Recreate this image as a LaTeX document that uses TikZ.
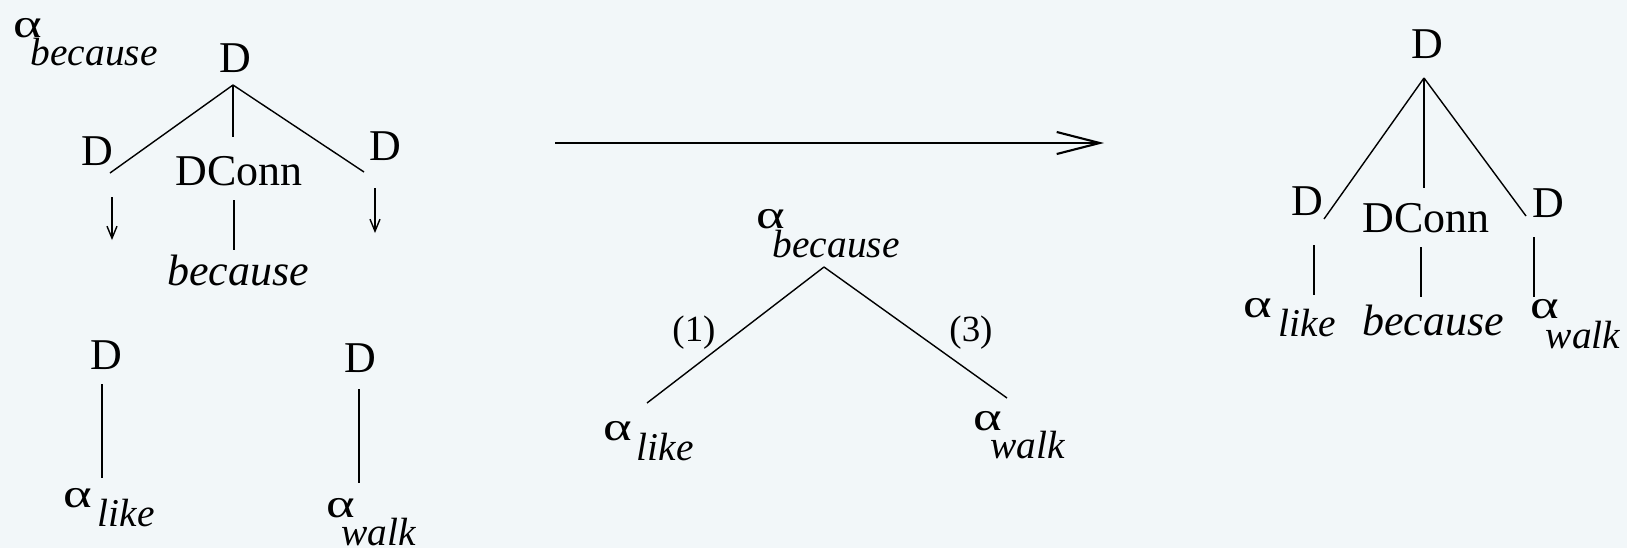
\documentclass[tikz,border=0pt]{standalone}
\usepackage{fontspec}
\setmainfont{Liberation Serif}
\usetikzlibrary{arrows.meta, calc}
\definecolor{bgcol}{RGB}{242,247,249}

% alpha with a lowered italic subscript: kern, drop, word
\newcommand{\alab}[3]{{\fontsize{11.5}{13}\selectfont\makebox[0.25cm][l]{\scalebox{1.35}[1]{α}}}%
  \kern#1\raisebox{-#2}{\fontsize{11.2}{13}\selectfont\itshape #3}}

\begin{document}
\begin{tikzpicture}[
  x=0.01cm, y=-0.01cm,
  cat/.style={anchor=base, inner sep=0pt, font=\fontsize{12.5}{15}\selectfont},
  word/.style={anchor=base, inner sep=0pt, font=\fontsize{12.5}{15}\selectfont\itshape},
  elem/.style={anchor=base west, inner sep=0pt, font=\fontsize{12.5}{15}\selectfont},
  addr/.style={anchor=base, inner sep=0pt, font=\fontsize{10.5}{13}\selectfont},
  edge/.style={line width=0.4pt},
  subst/.style={line width=0.4pt, -{Straight Barb[length=1.2mm, width=1mm]}},
  derive/.style={line width=0.6pt, -{Straight Barb[length=4.3mm, width=2.2mm]}}
]
\fill [bgcol] (0,0) rectangle (1627,548);
\useasboundingbox (0,0) rectangle (1627,548);

% elementary tree alpha_because
\node (becL) [elem] at (13,37) {\alab{-0.08cm}{0.28cm}{because}};
\node (dRoot) [cat] at (235,72) {D};
\node (dLeft) [cat] at (97,165) {D};
\node (dConn) [cat] at (239,185) {DConn};
\node (dRight) [cat] at (385,160) {D};
\node (wBec) [word] at (238,285) {because};

\draw [edge] ($(dRoot.base)+(-2,13)$) -- ($(dLeft.base)+(13,8)$);
\draw [edge] ($(dRoot.base)+(-2,13)$) -- ($(dConn.base)+(-6,-48)$);
\draw [edge] ($(dRoot.base)+(-2,13)$) -- ($(dRight.base)+(-21,12)$);
\draw [edge] ($(dConn.base)+(-5,15)$) -- ($(wBec.base)+(-4,-35)$);
\draw [subst] ($(dLeft.base)+(15,32)$) -- ($(dLeft.base)+(15,75)$);
\draw [subst] ($(dRight.base)+(-10,28)$) -- ($(dRight.base)+(-10,73)$);

% elementary trees alpha_like, alpha_walk
\node (dLike) [cat] at (106,369) {D};
\node (likeL) [elem] at (63,507) {\alab{0.09cm}{0.19cm}{like}};
\node (dWalk) [cat] at (360,372) {D};
\node (walkL) [elem] at (326,517) {\alab{-0.1cm}{0.28cm}{walk}};

\draw [edge] ($(dLike.base)+(-4,15)$) -- ($(likeL.base west)+(39,-29)$);
\draw [edge] ($(dWalk.base)+(-1,17)$) -- ($(walkL.base west)+(33,-34)$);

% derivation
\coordinate (arrS) at (555,143);
\coordinate (arrE) at (1104,143);
\draw [derive] (arrS) -- (arrE);

% derivation tree
\node (becM) [elem] at (756,228) {\alab{-0.09cm}{0.29cm}{because}};
\node (likeM) [elem] at (603,440) {\alab{0.08cm}{0.2cm}{like}};
\node (walkM) [elem] at (973,430) {\alab{-0.08cm}{0.28cm}{walk}};
\node (adr1) [addr] at (694,341) {(1)};
\node (adr3) [addr] at (971,341) {(3)};

\draw [edge] ($(becM.base west)+(68,39)$) -- ($(likeM.base west)+(44,-37)$);
\draw [edge] ($(becM.base west)+(68,39)$) -- ($(walkM.base west)+(34,-32)$);

% derived tree
\node (rRoot) [cat] at (1427,58) {D};
\node (rLeft) [cat] at (1307,215) {D};
\node (rConn) [cat] at (1426,232) {DConn};
\node (rRight) [cat] at (1548,217) {D};
\node (likeR) [elem] at (1243,317) {\alab{0.1cm}{0.19cm}{like}};
\node (rBec) [word] at (1433,335) {because};
\node (walkR) [elem] at (1530,318) {\alab{-0.1cm}{0.3cm}{walk}};

\draw [edge] ($(rRoot.base)+(-3,20)$) -- ($(rLeft.base)+(17,4)$);
\draw [edge] ($(rRoot.base)+(-3,20)$) -- ($(rConn.base)+(-2,-44)$);
\draw [edge] ($(rRoot.base)+(-3,20)$) -- ($(rRight.base)+(-22,-1)$);
\draw [edge] ($(rLeft.base)+(7,30)$) -- ($(likeR.base west)+(71,-22)$);
\draw [edge] ($(rConn.base)+(-5,15)$) -- ($(rBec.base)+(-12,-38)$);
\draw [edge] ($(rRight.base)+(-14,20)$) -- ($(walkR.base west)+(4,-21)$);

\end{tikzpicture}
\end{document}
